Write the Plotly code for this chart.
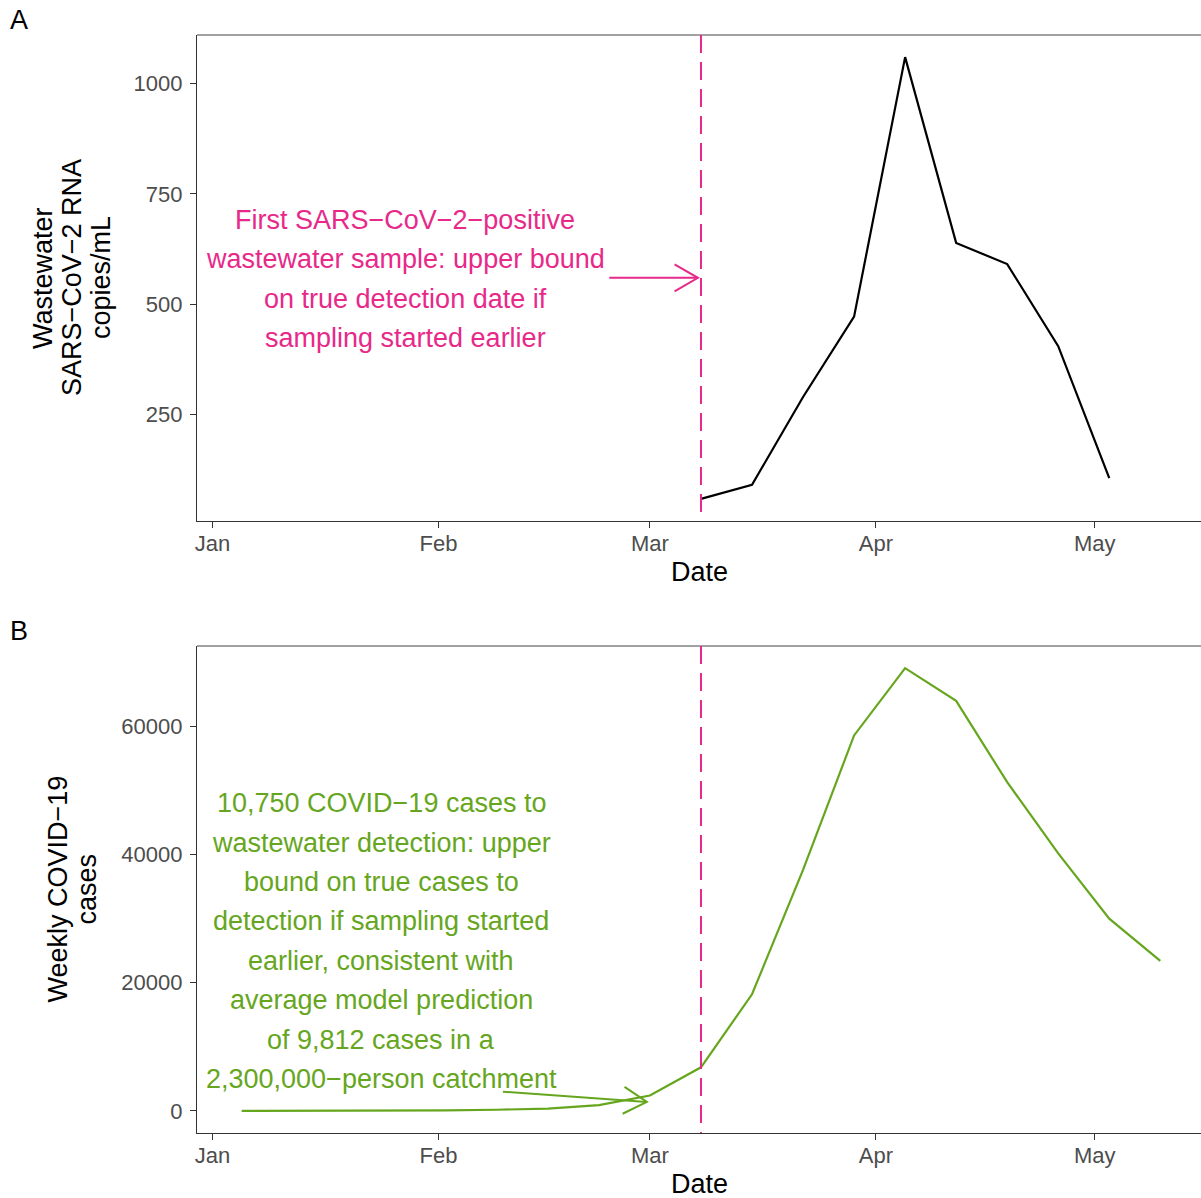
import math
from datetime import datetime
import plotly.graph_objects as go

# ---------------- data ----------------
ww_dates = ["2020-03-08", "2020-03-15", "2020-03-22", "2020-03-29", "2020-04-05",
            "2020-04-12", "2020-04-19", "2020-04-26", "2020-05-03"]
ww_values = [59, 91, 290, 472, 1060, 639, 591, 405, 106]

case_dates = ["2020-01-05", "2020-01-12", "2020-01-19", "2020-01-26", "2020-02-02",
              "2020-02-09", "2020-02-16", "2020-02-23", "2020-03-01", "2020-03-08",
              "2020-03-15", "2020-03-22", "2020-03-29", "2020-04-05", "2020-04-12",
              "2020-04-19", "2020-04-26", "2020-05-03", "2020-05-10"]
case_values = [5, 10, 20, 40, 80, 180, 350, 900, 2400, 6800,
               18200, 37600, 58600, 69100, 64000, 51300, 40200, 30000, 23400]

first_detection = "2020-03-08"
x_tick_vals = ["2020-01-01", "2020-02-01", "2020-03-01", "2020-04-01", "2020-05-01"]
x_tick_text = ["Jan", "Feb", "Mar", "Apr", "May"]
ww_y_ticks = [250, 500, 750, 1000]
case_y_ticks = [0, 20000, 40000, 60000]
case_y_tick_text = ["0", "20000", "40000", "60000"]

ww_note = ["First SARS\u2212CoV\u22122\u2212positive", "wastewater sample: upper bound",
           "on true detection date if", "sampling started earlier"]
case_note = ["10,750 COVID\u221219 cases to", "wastewater detection: upper",
             "bound on true cases to", "detection if sampling started",
             "earlier, consistent with", "average model prediction",
             "of 9,812 cases in a", "2,300,000\u2212person catchment"]
ww_ytitle = ["Wastewater", "SARS\u2212CoV\u22122 RNA", "copies/mL"]
case_ytitle = ["Weekly COVID\u221219", "cases"]

# annotation placement (data coords)
ww_note_pos = ("2020-01-27 10:00", 557)
ww_arrow = (("2020-02-24 10:00", 560), ("2020-03-07 14:00", 560))
case_note_pos = ("2020-01-24 03:00", 26500)
case_arrow = (("2020-02-09 20:00", 3000), ("2020-02-29 14:00", 1400))

# ---------------- styling ----------------
PINK = "#E7298A"
GREEN = "#66A61E"
FONT = "Liberation Sans, Arial, sans-serif"
W, H = 1201, 1198
ML, MR, MT, MB = 197, 0, 35, 65
X_RANGE = ["2019-12-29 21:00", "2020-05-15 14:00"]
A_TOP, A_BOT = 35, 521
B_TOP, B_BOT = 646, 1133
plot_h = H - MT - MB


def expand(vals, f=0.05):
    lo, hi = min(vals), max(vals)
    d = (hi - lo) * f
    return [lo - d, hi + d]


ya_range = expand(ww_values)
yb_range = expand(case_values)

fig = go.Figure()
fig.add_trace(go.Scatter(x=ww_dates, y=ww_values, mode="lines",
                         line=dict(color="black", width=2.2),
                         xaxis="x", yaxis="y", showlegend=False))
fig.add_trace(go.Scatter(x=case_dates, y=case_values, mode="lines",
                         line=dict(color=GREEN, width=2.2),
                         xaxis="x2", yaxis="y2", showlegend=False))

axis_common = dict(showgrid=False, zeroline=False, showline=True, linecolor="#333333",
                   linewidth=1.3, ticks="outside", ticklen=6, tickwidth=1.3,
                   tickcolor="#333333",
                   tickfont=dict(family=FONT, size=22, color="#4D4D4D"))

fig.update_layout(
    width=W, height=H, margin=dict(l=ML, r=MR, t=MT, b=MB),
    paper_bgcolor="white", plot_bgcolor="white", showlegend=False,
    xaxis=dict(domain=[0, 1], anchor="y", type="date", range=X_RANGE,
               tickvals=x_tick_vals, ticktext=x_tick_text, ticklabelstandoff=-4,
               **axis_common),
    yaxis=dict(domain=[(H - MB - A_BOT) / plot_h, 1], anchor="x", range=ya_range,
               tickvals=ww_y_ticks, ticklabelstandoff=3, **axis_common),
    xaxis2=dict(domain=[0, 1], anchor="y2", type="date", range=X_RANGE,
                tickvals=x_tick_vals, ticktext=x_tick_text, ticklabelstandoff=-4,
                **axis_common),
    yaxis2=dict(domain=[0, (H - MB - B_TOP) / plot_h], anchor="x2", range=yb_range,
                tickvals=case_y_ticks, ticktext=case_y_tick_text, ticklabelstandoff=3,
                **axis_common),
)

shapes = []
annos = []

# top borders
for xr, yr in (("x domain", "y domain"), ("x2 domain", "y2 domain")):
    shapes.append(dict(type="line", xref=xr, yref=yr, x0=0, x1=1, y0=1, y1=1,
                       line=dict(color="#444444", width=1)))

# dashed vertical line at first detection (drawn from the top)
for xr, yr in (("x", "y domain"), ("x2", "y2 domain")):
    shapes.append(dict(type="line", xref=xr, yref=yr, x0=first_detection, x1=first_detection,
                       y0=1, y1=0, line=dict(color=PINK, width=2, dash="18px,9px")))

# arrows
x0d = datetime.fromisoformat(X_RANGE[0])
x1d = datetime.fromisoformat(X_RANGE[1])
px_per_day = (W - ML - MR) / ((x1d - x0d).total_seconds() / 86400)


def add_arrow(arrow, xr, yr, py_per_unit, color):
    (tx, ty), (hx, hy) = arrow
    shapes.append(dict(type="line", xref=xr, yref=yr, x0=tx, y0=ty, x1=hx, y1=hy,
                       line=dict(color=color, width=2)))
    ddays = (datetime.fromisoformat(hx) - datetime.fromisoformat(tx)).total_seconds() / 86400
    dx = ddays * px_per_day
    dy = (hy - ty) * py_per_unit
    n = math.hypot(dx, dy)
    ux, uy = -dx / n, -dy / n
    L = 27
    pts = []
    for ang in (math.radians(30), math.radians(-30)):
        c, s = math.cos(ang), math.sin(ang)
        pts.append((L * (ux * c - uy * s), L * (ux * s + uy * c)))
    path = "M{:.2f},{:.2f} L0,0 L{:.2f},{:.2f}".format(pts[0][0], pts[0][1], pts[1][0], pts[1][1])
    shapes.append(dict(type="path", xref=xr, yref=yr, xsizemode="pixel", ysizemode="pixel",
                       xanchor=hx, yanchor=hy, path=path,
                       line=dict(color=color, width=2)))


add_arrow(ww_arrow, "x", "y", (A_BOT - A_TOP) / (ya_range[1] - ya_range[0]), PINK)
add_arrow(case_arrow, "x2", "y2", (B_BOT - B_TOP) / (yb_range[1] - yb_range[0]), GREEN)

# multi-line notes
LS = 39.4


def add_note(lines, pos, xr, yr, color):
    n = len(lines)
    for i, t in enumerate(lines):
        annos.append(dict(text=t, x=pos[0], y=pos[1], xref=xr, yref=yr, showarrow=False,
                          xanchor="center", yanchor="middle",
                          yshift=((n - 1) / 2 - i) * LS,
                          font=dict(family=FONT, size=27, color=color)))


add_note(ww_note, ww_note_pos, "x", "y", PINK)
add_note(case_note, case_note_pos, "x2", "y2", GREEN)

# y-axis titles (rotated, one annotation per line)
for t, cx in zip(ww_ytitle, (43, 72, 101)):
    annos.append(dict(text=t, x=0, y=0.5, xref="paper", yref="y domain", showarrow=False,
                      textangle=-90, xanchor="center", yanchor="middle", xshift=cx - ML,
                      font=dict(family=FONT, size=27, color="black")))
for t, cx in zip(case_ytitle, (57, 86)):
    annos.append(dict(text=t, x=0, y=0.5, xref="paper", yref="y2 domain", showarrow=False,
                      textangle=-90, xanchor="center", yanchor="middle", xshift=cx - ML,
                      font=dict(family=FONT, size=27, color="black")))

# x-axis titles
for yr in ("y domain", "y2 domain"):
    annos.append(dict(text="Date", x=0.5, y=0, xref="paper", yref=yr, showarrow=False,
                      xanchor="center", yanchor="middle", yshift=-51,
                      font=dict(family=FONT, size=27, color="black")))

# panel tags
for tag, yr in (("A", "y domain"), ("B", "y2 domain")):
    annos.append(dict(text=tag, x=0, y=1, xref="paper", yref=yr, showarrow=False,
                      xanchor="center", yanchor="middle", xshift=19 - ML, yshift=15,
                      font=dict(family=FONT, size=27, color="black")))

fig.update_layout(shapes=shapes, annotations=annos)
fig.write_html("out.html")
